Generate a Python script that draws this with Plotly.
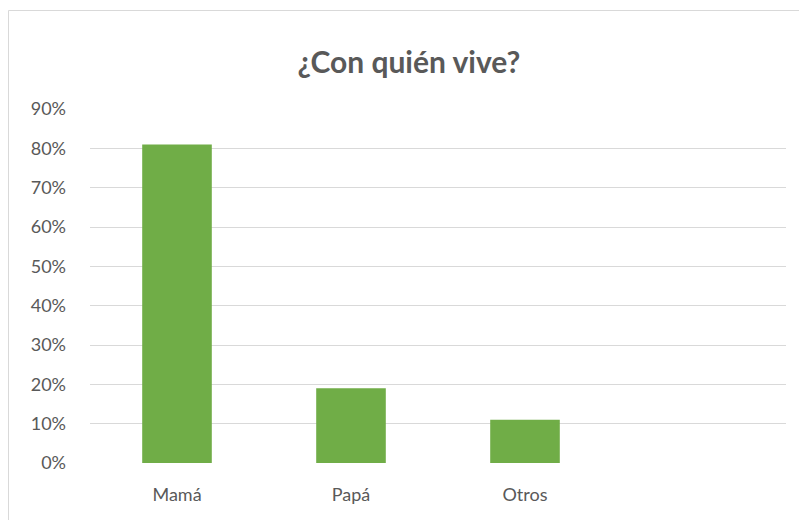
import plotly.graph_objects as go

categories = ["Mamá", "Papá", "Otros"]
values = [0.81, 0.19, 0.11]
y_ticks = [0, 0.1, 0.2, 0.3, 0.4, 0.5, 0.6, 0.7, 0.8, 0.9]
y_tick_labels = ["0%", "10%", "20%", "30%", "40%", "50%", "60%", "70%", "80%", "90%"]
n_slots = 4  # the original axis has an empty fourth category slot

x_pos = list(range(len(categories)))

# page body has an 8px margin, so layout is offset by -8px
OFF = 8
L, R_EDGE, TOP, BOT = 90 - OFF, 786 - OFF, 109 - OFF, 463 - OFF
W, H = 807, 520
PW, PH = R_EDGE - L, BOT - TOP

fig = go.Figure(go.Bar(
    x=x_pos, y=values, width=0.4,
    marker=dict(color="#70AD47", line=dict(width=0)),
    hoverinfo="skip",
))

FONT = "Lato, Open Sans, sans-serif"
fig.update_layout(
    width=W, height=H,
    margin=dict(l=L, r=W - R_EDGE, t=TOP, b=H - BOT),
    paper_bgcolor="white", plot_bgcolor="white",
    showlegend=False,
    title=dict(text="<b>¿Con quién vive?</b>", x=(409 - OFF) / W, xanchor="center",
               y=1 - (62 - OFF) / H, yanchor="middle",
               font=dict(family=FONT, size=30, color="#595959")),
    font=dict(family=FONT, color="#595959"),
    xaxis=dict(range=[-0.5, n_slots - 0.5], tickvals=x_pos, ticktext=categories,
               showgrid=False, zeroline=False, showline=False, ticks="",
               tickfont=dict(size=18, color="#595959"), ticklabelstandoff=19),
    yaxis=dict(range=[0, 0.9], tickvals=y_ticks, ticktext=y_tick_labels,
               showgrid=True, gridcolor="#D9D9D9", gridwidth=1.3,
               zeroline=False, showline=False, ticks="",
               tickfont=dict(size=18, color="#595959"), ticklabelstandoff=23),
    shapes=[dict(type="rect", xref="paper", yref="paper",
                 x0=(8 - OFF - L + 0.5) / PW, x1=1.2,
                 y0=-0.5, y1=(BOT - (10 - OFF) - 0.5) / PH,
                 line=dict(color="#D9D9D9", width=1), fillcolor="rgba(0,0,0,0)",
                 layer="below")],
)

fig.write_html("out.html")
